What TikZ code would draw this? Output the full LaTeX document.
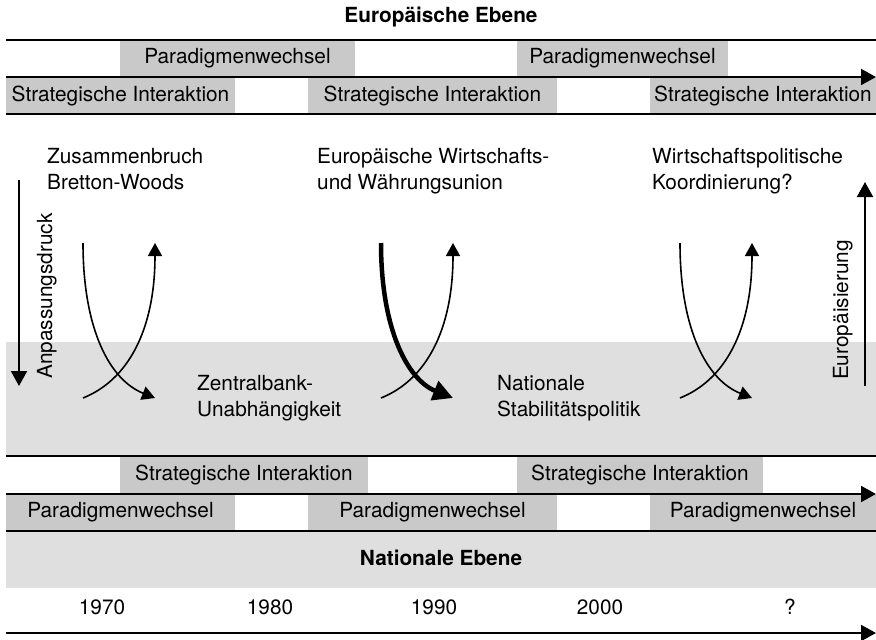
\documentclass[tikz,border=0pt]{standalone}
\usepackage{fontspec}
\setmainfont{TeX Gyre Heros}
\usetikzlibrary{arrows.meta,positioning}
\definecolor{boxgray}{gray}{0.79}
\definecolor{bandgray}{gray}{0.875}

\begin{document}
\begin{tikzpicture}[x=1pt,y=-1pt,
  every node/.style={font=\fontsize{20.8}{26}\selectfont},
  box/.style={fill=boxgray,inner sep=0pt,minimum height=35pt},
  lbl/.style={align=left,anchor=north west,inner sep=0pt},
  rule/.style={line width=2pt},
  timeline/.style={line width=2pt,-{Triangle[length=15pt,width=16pt]}},
  swing/.style={line width=1.6pt,-{Triangle[length=13pt,width=14pt]}},
  bigswing/.style={line width=4.5pt,-{Triangle[length=20pt,width=20pt]}}]
\useasboundingbox (0,0) rectangle (876,640);

% grey bands
\fill[bandgray] (6,342) rectangle (876,456);
\fill[bandgray] (6,531) rectangle (876,588);

% European level
\node (euebene) at (441,17) {\textbf{Europäische Ebene}};
\node[box,minimum width=235pt] (pw1) at (237.5,58.5) {Paradigmenwechsel};
\node[box,minimum width=211pt] (pw2) at (622.5,58.5) {Paradigmenwechsel};
\node[box,minimum width=229pt] (si1) at (120.5,95.5) {Strategische Interaktion};
\node[box,minimum width=249pt] (si2) at (432.5,95.5) {Strategische Interaktion};
\node[box,minimum width=226pt] (si3) at (763,95.5) {Strategische Interaktion};

\coordinate (t1w) at (6,40);  \coordinate (t1e) at (876,40);
\coordinate (t2w) at (6,77);  \coordinate (t2e) at (876,77);
\coordinate (t3w) at (6,114); \coordinate (t3e) at (876,114);
\draw[rule] (t1w) -- (t1e);
\draw[timeline] (t2w) -- (t2e);
\draw[rule] (t3w) -- (t3e);

\node[lbl] (bw)    at (47,148)  {Zusammenbruch\\Bretton-Woods};
\node[lbl] (wwu)   at (317,148) {Europäische Wirtschafts-\\und Währungsunion};
\node[lbl] (koord) at (652,148) {Wirtschaftspolitische\\Koordinierung?};

% pressure and europeanisation
\coordinate (apTop) at (19,180);  \coordinate (apBot) at (19,386);
\coordinate (euBot) at (865,386); \coordinate (euTop) at (865,182);
\draw[timeline] (apTop) -- (apBot);
\draw[timeline] (euBot) -- (euTop);
\node[rotate=90,anchor=base] (anp) at (52,296)  {Anpassungsdruck};
\node[rotate=90,anchor=base] (eur) at (848,310) {Europäisierung};

% swings
\coordinate (a1) at (83,243);  \coordinate (b1) at (155,398);
\coordinate (c1) at (83,398);  \coordinate (d1) at (155,243);
\coordinate (a2) at (381,243); \coordinate (b2) at (453,398);
\coordinate (c2) at (381,398); \coordinate (d2) at (453,243);
\coordinate (a3) at (680,243); \coordinate (b3) at (752,398);
\coordinate (c3) at (680,398); \coordinate (d3) at (752,243);
\draw[swing]    (a1) .. controls +(0,87) and +(-45,-18) .. (b1);
\draw[swing]    (c1) .. controls +(45,-18) and +(0,87) .. (d1);
\draw[bigswing] (a2) .. controls +(0,87) and +(-45,-18) .. (b2);
\draw[swing]    (c2) .. controls +(45,-18) and +(0,87) .. (d2);
\draw[swing]    (a3) .. controls +(0,87) and +(-45,-18) .. (b3);
\draw[swing]    (c3) .. controls +(45,-18) and +(0,87) .. (d3);

\node[lbl] (zbu) at (197,375) {Zentralbank-\\Unabhängigkeit};
\node[lbl] (nsp) at (497,375) {Nationale\\Stabilitätspolitik};

% national level
\node[box,minimum width=248pt,minimum height=36pt] (si4) at (244,475) {Strategische Interaktion};
\node[box,minimum width=246pt,minimum height=36pt] (si5) at (640,475) {Strategische Interaktion};
\node[box,minimum width=229pt] (pw3) at (120.5,512.5) {Paradigmenwechsel};
\node[box,minimum width=249pt] (pw4) at (432.5,512.5) {Paradigmenwechsel};
\node[box,minimum width=226pt] (pw5) at (763,512.5) {Paradigmenwechsel};

\coordinate (b1w) at (6,456); \coordinate (b1e) at (876,456);
\coordinate (b2w) at (6,494); \coordinate (b2e) at (876,494);
\coordinate (b3w) at (6,531); \coordinate (b3e) at (876,531);
\coordinate (b4w) at (6,633); \coordinate (b4e) at (876,633);
\draw[rule] (b1w) -- (b1e);
\draw[timeline] (b2w) -- (b2e);
\draw[rule] (b3w) -- (b3e);
\draw[timeline] (b4w) -- (b4e);

\node (natebene) at (441,558) {\textbf{Nationale Ebene}};

% years
\node (y1970) at (102,607) {1970};
\node (y1980) at (270,607) {1980};
\node (y1990) at (434,607) {1990};
\node (y2000) at (600,607) {2000};
\node (ynext) at (790,607) {?};
\end{tikzpicture}
\end{document}
